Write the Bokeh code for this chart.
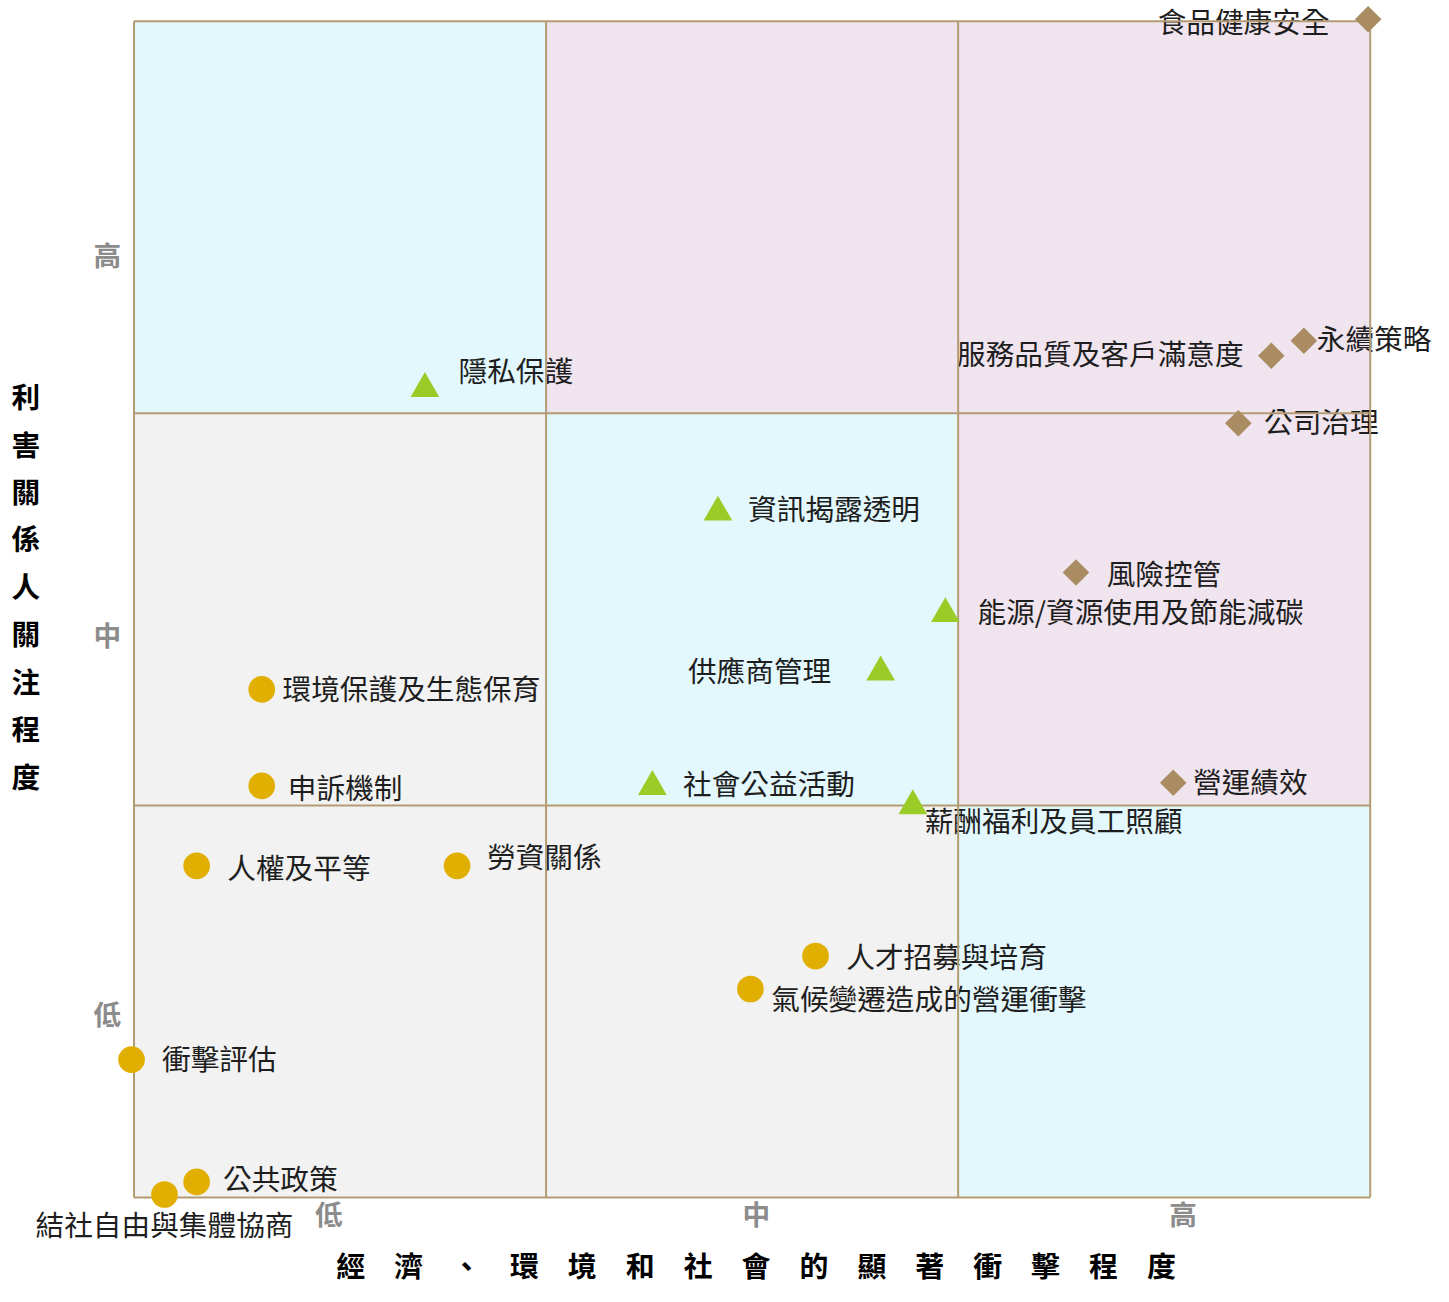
from bokeh.plotting import figure
from bokeh.models import Range1d
from bokeh.core.properties import value
from bokeh.embed import file_html
from bokeh.resources import INLINE

# ---------------- data (0-3 scale: 低 / 中 / 高) ----------------
tick_labels = ["低", "中", "高"]
x_ticks = [0.473, 1.510, 2.546]
y_ticks = [0.471, 1.438, 2.406]

x_title = "經　濟　、　環　境　和　社　會　的　顯　著　衝　擊　程　度"
y_title = "利害關係人關注程度"

gov_names = ["食品健康安全", "永續策略", "服務品質及客戶滿意度", "公司治理", "風險控管", "營運績效"]
gov_x = [2.995, 2.839, 2.760, 2.680, 2.286, 2.522]
gov_y = [3.005, 2.185, 2.147, 1.975, 1.594, 1.058]

env_names = ["隱私保護", "資訊揭露透明", "能源/資源使用及節能減碳", "供應商管理", "社會公益活動", "薪酬福利及員工照顧"]
env_x = [0.706, 1.417, 1.969, 1.812, 1.258, 1.890]
env_y = [2.063, 1.748, 1.489, 1.340, 1.048, 0.999]

soc_names = ["環境保護及生態保育", "申訴機制", "人權及平等", "勞資關係", "人才招募與培育",
             "氣候變遷造成的營運衝擊", "衝擊評估", "公共政策", "結社自由與集體協商"]
soc_x = [0.310, 0.310, 0.152, 0.784, 1.654, 1.496, -0.006, 0.152, 0.074]
soc_y = [1.296, 1.050, 0.846, 0.846, 0.616, 0.532, 0.352, 0.040, 0.008]

# cell categories, rows bottom -> top, columns left -> right
cell_kind = [["gray", "gray", "cyan"],
             ["gray", "cyan", "pink"],
             ["cyan", "pink", "pink"]]

# ---------------- layout / style ----------------
REF_W, REF_H = 1449, 1302          # design space in px
W, H = 1433, 1286                  # figure size (fits window with 8px margin)
K = (W / REF_W + H / REF_H) / 2    # uniform scale for fonts / markers
SX = 1250 / 3.0                    # design px per unit (x)
SY = 1191 / 3.0                    # design px per unit (y)
X0, Y0 = 135, 1212                 # design px of data origin


def dx(px):
    return px / SX


def dy(px):
    return -px / SY


def fs(px):
    return "%.2fpx" % (px * K)


CELL_COLORS = {"gray": "#f2f2f2", "cyan": "#e3f8fc", "pink": "#f0e4ef"}
LINE_COLOR = "#b39b73"
GOV_COLOR = "#a98c62"
ENV_COLOR = "#9bcb26"
SOC_COLOR = "#e0af02"
TEXT_COLOR = "#1e1e1e"
TICK_COLOR = "#8c8c8c"
FONT = value("Noto Sans CJK TC")

# label offsets (design px right, design px down, align)
gov_off = [(-39, 1.5, "right"), (13, -3, "left"), (-28, -3, "right"), (26, -3, "left"),
           (31, 0, "left"), (20, -2, "left")]
env_off = [(34, -19, "left"), (30.5, -4.5, "left"), (32.5, -3, "left"), (-50, -3, "right"),
           (31, -4.5, "left"), (12, 13.5, "left")]
soc_off = [(21, -2.3, "left"), (26.4, 0.5, "left"), (31, 0.7, "left"), (30.3, -10, "left"),
           (31, -0.5, "left"), (21, 8.3, "left"), (30.8, -2.3, "left"), (26.7, -4.5, "left"),
           (0, 29, "center")]

p = figure(width=W, height=H, output_backend="svg", toolbar_location=None,
           x_axis_location=None, y_axis_location=None,
           x_range=Range1d((0 - X0) / SX, (REF_W - X0) / SX),
           y_range=Range1d((Y0 - REF_H) / SY, Y0 / SY),
           min_border=0)
p.grid.visible = False
p.outline_line_color = None
p.background_fill_color = "white"
p.border_fill_color = "white"

# cells
for r, row in enumerate(cell_kind):
    for c, kind in enumerate(row):
        p.quad(left=c, right=c + 1, bottom=r, top=r + 1,
               fill_color=CELL_COLORS[kind], line_color=None)


# point labels
def add_labels(names, xs, ys, offs):
    for n, x, y, (ox, oy, al) in zip(names, xs, ys, offs):
        p.text(x=[x + dx(ox)], y=[y + dy(oy)], text=[n], text_font=FONT,
               text_font_size=fs(29), text_color=TEXT_COLOR,
               text_align=al, text_baseline="middle")


add_labels(gov_names, gov_x, gov_y, gov_off)
add_labels(env_names, env_x, env_y, env_off)
add_labels(soc_names, soc_x, soc_y, soc_off)

# grid lines
for k in range(4):
    p.segment(x0=k, y0=0, x1=k, y1=3, line_color=LINE_COLOR, line_width=2)
    p.segment(x0=0, y0=k, x1=3, y1=k, line_color=LINE_COLOR, line_width=2)

# markers
p.scatter(x=gov_x, y=gov_y, marker="square", size=19 * K, angle=0.785398,
          fill_color=GOV_COLOR, line_color=None)
p.scatter(x=env_x, y=env_y, marker="triangle", size=29 * K,
          fill_color=ENV_COLOR, line_color=None)
p.scatter(x=soc_x, y=soc_y, marker="circle", size=27 * K,
          fill_color=SOC_COLOR, line_color=None)

# tick labels
p.text(x=x_ticks, y=[dy(1228 - Y0)] * 3, text=tick_labels, text_font=FONT,
       text_font_size=fs(28), text_font_style="bold", text_color=TICK_COLOR,
       text_align="center", text_baseline="middle")
p.text(x=[dx(108 - X0)] * 3, y=y_ticks, text=tick_labels, text_font=FONT,
       text_font_size=fs(28), text_font_style="bold", text_color=TICK_COLOR,
       text_align="center", text_baseline="middle")

# axis titles
p.text(x=[dx(764 - X0)], y=[dy(1279 - Y0)], text=[x_title], text_font=FONT,
       text_font_size=fs(29.3), text_font_style="bold", text_color="black",
       text_align="center", text_baseline="middle")
ty = [dy(400 + i * 48.06 - Y0) for i in range(len(y_title))]
p.text(x=[dx(25.5 - X0)] * len(y_title), y=ty, text=list(y_title), text_font=FONT,
       text_font_size=fs(29), text_font_style="bold", text_color="black",
       text_align="center", text_baseline="middle")

open("out.html", "w").write(file_html(p, INLINE))
